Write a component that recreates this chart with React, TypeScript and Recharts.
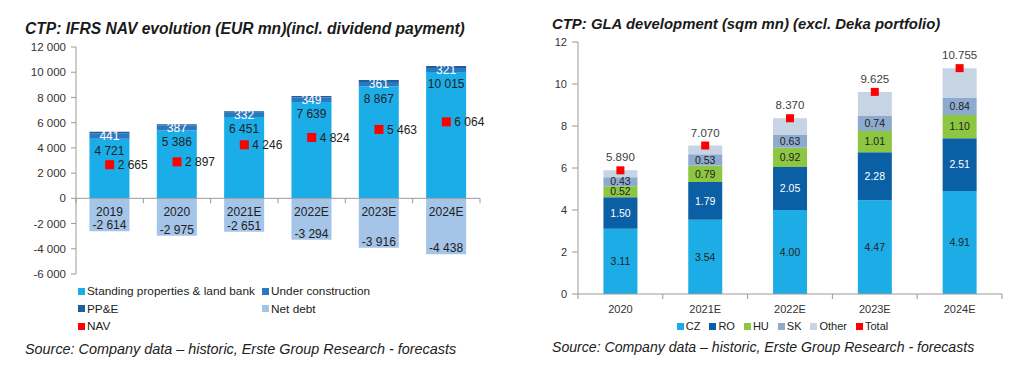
import React from 'react';
import { ComposedChart, Bar, Line, XAxis, YAxis, ReferenceLine, LabelList, Legend } from 'recharts';

const FONT = '"Liberation Sans", Arial, Helvetica, sans-serif';

// ---- Left chart: IFRS NAV evolution (EUR mn)
const navYears = ['2019', '2020', '2021E', '2022E', '2023E', '2024E'];
const standing = [4721, 5386, 6451, 7639, 8867, 10015];
const underConstruction = [441, 387, 332, 349, 361, 321];
const ppe = [117, 99, 114, 130, 151, 166];
const netDebt = [-2614, -2975, -2651, -3294, -3916, -4438];
const nav = [2665, 2897, 4246, 4824, 5463, 6064];
const navTicks = [-6000, -4000, -2000, 0, 2000, 4000, 6000, 8000, 10000, 12000];

// ---- Right chart: GLA development (sqm mn)
const glaYears = ['2020', '2021E', '2022E', '2023E', '2024E'];
const cz = [3.11, 3.54, 4.0, 4.47, 4.91];
const ro = [1.5, 1.79, 2.05, 2.28, 2.51];
const hu = [0.52, 0.79, 0.92, 1.01, 1.1];
const sk = [0.43, 0.53, 0.63, 0.74, 0.84];
const other = [0.33, 0.42, 0.77, 1.125, 1.395];
const total = [5.89, 7.07, 8.37, 9.625, 10.755];
const glaTicks = [0, 2, 4, 6, 8, 10, 12];

const C = {
  standing: '#1AADE8',
  uc: '#2A78C0',
  ppe: '#1F5E9E',
  debt: '#A4C4E8',
  red: '#FF0000',
  cz: '#1DADE6',
  ro: '#0B5FA5',
  hu: '#8DC641',
  sk: '#8EAACF',
  other: '#C7D4E4',
  axis: '#9A9A9A',
  text: '#222222',
};

const navData = navYears.map((year, i) => ({
  year,
  standing: standing[i],
  uc: underConstruction[i],
  ppe: ppe[i],
  debt: netDebt[i],
  nav: nav[i],
}));

const glaData = glaYears.map((year, i) => ({
  year,
  cz: cz[i],
  ro: ro[i],
  hu: hu[i],
  sk: sk[i],
  other: other[i],
  total: total[i],
}));

const fmtSpace = (v: any) => {
  const n = Number(v);
  const s = Math.abs(Math.round(n)).toString().replace(/\B(?=(\d{3})+(?!\d))/g, ' ');
  return (n < 0 ? '-' : '') + s;
};

const axisWithTicks = (n: number) => (props: any) => {
  const x1 = Number(props.x1);
  const x2 = Number(props.x2);
  const y = Number(props.y1);
  const step = (x2 - x1) / n;
  return (
    <g>
      <line x1={x1} y1={y} x2={x2} y2={y} stroke={C.axis} strokeWidth={1} />
      {Array.from({ length: n + 1 }, (_, i) => (
        <line key={i} x1={x1 + i * step} x2={x1 + i * step} y1={y} y2={y + 5} stroke={C.axis} strokeWidth={1} />
      ))}
    </g>
  );
};

const boxOf = (props: any) => {
  const vb = props.viewBox && props.viewBox.width != null ? props.viewBox : props;
  const x = Number(vb.x);
  const y = Number(vb.y);
  const w = Number(vb.width);
  const h = Number(vb.height);
  return { x, w, top: Math.min(y, y + h), bottom: Math.max(y, y + h) };
};

const debtLabel = (props: any) => {
  const { x, w, top, bottom } = boxOf(props);
  const idx = props.index;
  const cx = x + w / 2;
  return (
    <g>
      <text x={cx} y={top + 14} textAnchor="middle" dominantBaseline="central" fontSize={12} fill={C.text}>
        {navYears[idx]}
      </text>
      <text x={cx} y={bottom - 6} textAnchor="middle" dominantBaseline="central" fontSize={12} fill={C.text}>
        {fmtSpace(netDebt[idx])}
      </text>
    </g>
  );
};

const standingLabel = (props: any) => {
  const { x, w, top } = boxOf(props);
  const idx = props.index;
  return (
    <text x={x + w / 2} y={top + 12} textAnchor="middle" dominantBaseline="central" fontSize={12} fill={C.text}>
      {fmtSpace(standing[idx])}
    </text>
  );
};

const navLegendItems = [
  { name: 'Standing properties & land bank', color: C.standing },
  { name: 'Under construction', color: C.uc },
  { name: 'PP&E', color: C.ppe },
  { name: 'Net debt', color: C.debt },
  { name: 'NAV', color: C.red },
];

const glaLegendItems = [
  { name: 'CZ', color: C.cz },
  { name: 'RO', color: C.ro },
  { name: 'HU', color: C.hu },
  { name: 'SK', color: C.sk },
  { name: 'Other', color: C.other },
  { name: 'Total', color: C.red },
];

const NavLegend = () => (
  <div style={{ display: 'grid', gridTemplateColumns: '184px 170px', rowGap: 1, fontSize: 11.8, color: C.text, lineHeight: '16.5px' }}>
    {navLegendItems.map((it) => (
      <div key={it.name} style={{ display: 'flex', alignItems: 'center', whiteSpace: 'nowrap' }}>
        <span style={{ width: 7, height: 7, background: it.color, display: 'inline-block', marginRight: 2, flexShrink: 0 }} />
        <span>{it.name}</span>
      </div>
    ))}
  </div>
);

const GlaLegend = () => (
  <div style={{ display: 'flex', justifyContent: 'center', fontSize: 11, color: C.text, lineHeight: '14px' }}>
    {glaLegendItems.map((it) => (
      <div key={it.name} style={{ display: 'flex', alignItems: 'center', marginRight: 9, whiteSpace: 'nowrap' }}>
        <span style={{ width: 7, height: 7, background: it.color, display: 'inline-block', marginRight: 2, flexShrink: 0 }} />
        <span>{it.name}</span>
      </div>
    ))}
  </div>
);

const squareDot = (size: number) => (p: any) => (
  <rect key={`d-${p.index}`} x={p.cx - size / 2} y={p.cy - size / 2} width={size} height={size} fill={C.red} />
);

const titleStyle: React.CSSProperties = {
  position: 'absolute',
  fontWeight: 'bold',
  fontStyle: 'italic',
  color: '#1a1a1a',
  lineHeight: '18px',
  whiteSpace: 'nowrap',
};

const sourceStyle: React.CSSProperties = {
  position: 'absolute',
  fontStyle: 'italic',
  color: C.text,
  lineHeight: '16px',
  whiteSpace: 'nowrap',
};

const fmt2 = (v: any) => Number(v).toFixed(2);

export default function App() {
  return (
    <div style={{ position: 'absolute', left: 0, top: 0, width: 1024, height: 376, background: '#fff', fontFamily: FONT, overflow: 'hidden' }}>
      <div style={{ ...titleStyle, fontSize: 15.6, left: 25, top: 20 }}>CTP: IFRS NAV evolution (EUR mn)(incl. dividend payment)</div>
      <div style={{ ...titleStyle, fontSize: 14.9, left: 552, top: 15 }}>CTP: GLA development (sqm mn) (excl. Deka portfolio)</div>

      <div style={{ position: 'absolute', left: 0, top: 0 }}>
        <ComposedChart
          width={500}
          height={376}
          data={navData}
          stackOffset="sign"
          barCategoryGap="20%"
          margin={{ top: 47, right: 20, bottom: 102, left: 16 }}
        >
          <XAxis dataKey="year" hide />
          <YAxis
            domain={[-6000, 12000]}
            ticks={navTicks}
            tickFormatter={fmtSpace}
            width={60}
            tickSize={5}
            tickMargin={5}
            axisLine={{ stroke: C.axis }}
            tickLine={{ stroke: C.axis }}
            tick={{ fill: '#333', fontSize: 11.5 }}
            interval={0}
          />
          <Bar dataKey="standing" name="Standing properties & land bank" stackId="a" fill={C.standing} isAnimationActive={false}>
            <LabelList dataKey="standing" content={standingLabel} />
          </Bar>
          <Bar dataKey="uc" name="Under construction" stackId="a" fill={C.uc} isAnimationActive={false}>
            <LabelList dataKey="uc" position="center" formatter={fmtSpace} fill="#ffffff" fontSize={12} />
          </Bar>
          <Bar dataKey="ppe" name="PP&E" stackId="a" fill={C.ppe} isAnimationActive={false} />
          <Bar dataKey="debt" name="Net debt" stackId="a" fill={C.debt} isAnimationActive={false}>
            <LabelList dataKey="debt" content={debtLabel} />
          </Bar>
          <ReferenceLine y={0} shape={axisWithTicks(navYears.length)} />
          <Line
            dataKey="nav"
            name="NAV"
            stroke={C.red}
            strokeWidth={0}
            strokeOpacity={0}
            dot={squareDot(9)}
            activeDot={false}
            legendType="square"
            isAnimationActive={false}
          >
            <LabelList dataKey="nav" position="right" offset={8} formatter={fmtSpace} fill={C.text} fontSize={12} />
          </Line>
          <Legend
            layout="vertical"
            align="center"
            verticalAlign="middle"
            content={() => <NavLegend />}
            wrapperStyle={{ position: 'absolute', left: 78, top: 283, width: 380, height: 54 }}
          />
        </ComposedChart>
      </div>

      <div style={{ position: 'absolute', left: 512, top: 0 }}>
        <ComposedChart
          width={512}
          height={376}
          data={glaData}
          barCategoryGap="30%"
          margin={{ top: 42, right: 22, bottom: 52, left: 26 }}
        >
          <XAxis
            dataKey="year"
            height={30}
            axisLine={false}
            tickLine={false}
            tick={{ fill: '#333', fontSize: 11 }}
            tickMargin={5}
            interval={0}
          />
          <YAxis
            domain={[0, 12]}
            ticks={glaTicks}
            width={40}
            tickSize={6}
            tickMargin={5}
            axisLine={{ stroke: C.axis }}
            tickLine={{ stroke: C.axis }}
            tick={{ fill: '#333', fontSize: 11 }}
            interval={0}
          />
          <Bar dataKey="cz" name="CZ" stackId="g" fill={C.cz} isAnimationActive={false}>
            <LabelList dataKey="cz" position="center" formatter={fmt2} fill={C.text} fontSize={10.5} />
          </Bar>
          <Bar dataKey="ro" name="RO" stackId="g" fill={C.ro} isAnimationActive={false}>
            <LabelList dataKey="ro" position="center" formatter={fmt2} fill="#ffffff" fontSize={10.5} />
          </Bar>
          <Bar dataKey="hu" name="HU" stackId="g" fill={C.hu} isAnimationActive={false}>
            <LabelList dataKey="hu" position="center" formatter={fmt2} fill={C.text} fontSize={10.5} />
          </Bar>
          <Bar dataKey="sk" name="SK" stackId="g" fill={C.sk} isAnimationActive={false}>
            <LabelList dataKey="sk" position="center" formatter={fmt2} fill={C.text} fontSize={10.5} />
          </Bar>
          <Bar dataKey="other" name="Other" stackId="g" fill={C.other} isAnimationActive={false} />
          <ReferenceLine y={0} shape={axisWithTicks(glaYears.length)} />
          <Line
            dataKey="total"
            name="Total"
            stroke={C.red}
            strokeWidth={0}
            strokeOpacity={0}
            dot={squareDot(8)}
            activeDot={false}
            legendType="square"
            isAnimationActive={false}
          >
            <LabelList dataKey="total" position="top" offset={9} formatter={(v: any) => Number(v).toFixed(3)} fill="#404040" fontSize={11.5} />
          </Line>
          <Legend
            layout="vertical"
            align="center"
            verticalAlign="middle"
            content={() => <GlaLegend />}
            wrapperStyle={{ position: 'absolute', left: 0, top: 319, width: 550, height: 16 }}
          />
        </ComposedChart>
      </div>

      <div style={{ ...sourceStyle, fontSize: 14.4, left: 25, top: 341 }}>Source: Company data – historic, Erste Group Research - forecasts</div>
      <div style={{ ...sourceStyle, fontSize: 14.1, left: 552, top: 339 }}>Source: Company data – historic, Erste Group Research - forecasts</div>
    </div>
  );
}
